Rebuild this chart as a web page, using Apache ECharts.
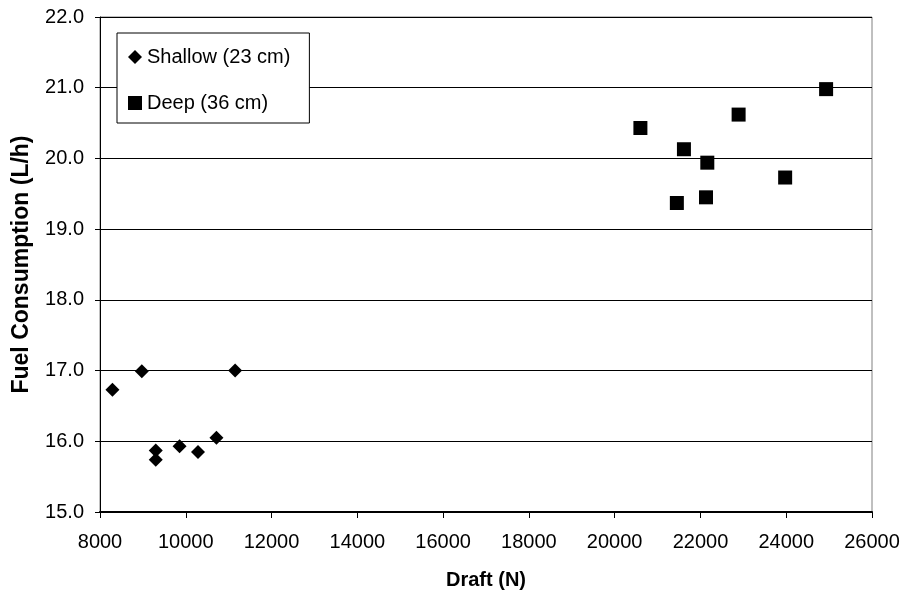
<!DOCTYPE html>
<html><head><meta charset="utf-8">
<script src="https://cdn.jsdelivr.net/npm/echarts@6/dist/echarts.min.js"></script>
<style>html,body{margin:0;padding:0;background:#fff}#c{width:906px;height:595px}</style>
</head><body><div id="c"></div>
<script>
const shallowDraft = [8290, 8975, 11150, 9300, 9300, 9855, 10285, 10715];
const shallowFuel  = [16.73, 16.99, 17.00, 15.87, 15.74, 15.93, 15.85, 16.05];
const deepDraft = [24930, 22890, 20600, 21615, 22160, 23975, 22130, 21450];
const deepFuel  = [20.98, 20.62, 20.43, 20.13, 19.94, 19.73, 19.45, 19.37];
const seriesNames = ['Shallow (23 cm)', 'Deep (36 cm)'];

const chart = echarts.init(document.getElementById('c'), null, {renderer: 'canvas'});
const font = 'Liberation Sans, Arial, sans-serif';
chart.setOption({
  animation: false,
  backgroundColor: '#fff',
  grid: {left: 100, right: 34, top: 17, bottom: 83, show: true, borderColor: '#808080', borderWidth: 1, backgroundColor: 'transparent'},
  legend: {
    orient: 'vertical', left: 117, top: 33,
    backgroundColor: '#fff', borderColor: '#000', borderWidth: 1, borderRadius: 0,
    padding: [14, 19, 10, 11], itemGap: 26, itemWidth: 14, itemHeight: 14,
    textStyle: {fontFamily: font, fontSize: 20, lineHeight: 20, color: '#000'},
    data: [{name: seriesNames[0], icon: 'diamond'}, {name: seriesNames[1], icon: 'rect'}]
  },
  xAxis: {
    type: 'value', min: 8000, max: 26000, interval: 2000,
    name: 'Draft (N)', nameLocation: 'middle', nameGap: 58,
    nameTextStyle: {fontFamily: font, fontSize: 20, fontWeight: 'bold', color: '#000'},
    axisLine: {lineStyle: {color: '#000', width: 2}},
    axisTick: {show: true, length: 6, lineStyle: {color: '#000'}},
    axisLabel: {fontFamily: font, fontSize: 20, color: '#000', margin: 20, formatter: v => String(v)},
    splitLine: {show: false}
  },
  yAxis: {
    type: 'value', min: 15, max: 22, interval: 1,
    name: 'Fuel Consumption (L/h)', nameLocation: 'middle', nameGap: 67,
    nameTextStyle: {fontFamily: font, fontSize: 23, fontWeight: 'bold', color: '#000'},
    axisLine: {show: true, lineStyle: {color: '#000', width: 1}},
    axisTick: {show: true, length: 5, lineStyle: {color: '#000'}},
    axisLabel: {fontFamily: font, fontSize: 20, color: '#000', margin: 16, formatter: v => v.toFixed(1)},
    splitLine: {show: true, lineStyle: {color: '#000', width: 1}}
  },
  series: [
    {name: seriesNames[0], type: 'scatter', symbol: 'diamond', symbolSize: 14,
     itemStyle: {color: '#000', opacity: 1}, data: shallowDraft.map((x, i) => [x, shallowFuel[i]])},
    {name: seriesNames[1], type: 'scatter', symbol: 'rect', symbolSize: 14,
     itemStyle: {color: '#000', opacity: 1}, data: deepDraft.map((x, i) => [x, deepFuel[i]])}
  ]
});
</script></body></html>
